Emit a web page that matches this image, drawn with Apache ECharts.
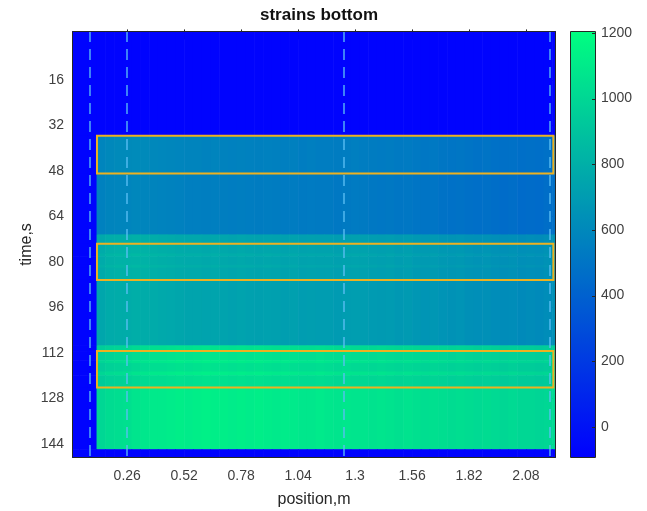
<!DOCTYPE html>
<html><head><meta charset="utf-8">
<script src="https://cdn.jsdelivr.net/npm/echarts@6/dist/echarts.min.js"></script>
<style>html,body{margin:0;padding:0;background:#fff}#c{width:647px;height:511px}</style>
</head><body><div id="c"></div>
<script>
// ---- data ----
const positions = [0.02,0.06,0.10,0.14,0.18,0.22,0.26,0.30,0.34,0.38,0.42,0.46,0.50,0.54,0.58,0.62,0.66,0.70,0.74,0.78,0.82,0.86,0.90,0.94,0.98,1.02,1.06,1.10,1.14,1.18,1.22,1.26,1.30,1.34,1.38,1.42,1.46,1.50,1.54,1.58,1.62,1.66,1.70,1.74,1.78,1.82,1.86,1.90,1.94,1.98,2.02,2.06,2.10,2.14,2.18,2.22];
// relative strain shape along the beam for the medium load steps
const profileMid = [0,0,0,1.06,1.09,1.10,1.10,1.11,1.10,1.09,1.08,1.07,1.06,1.05,1.05,1.04,1.05,1.04,1.03,1.04,1.03,1.02,1.03,1.02,1.01,1.02,1.00,1.01,1.00,1.00,0.99,1.00,1.01,1.00,0.99,0.98,0.99,0.97,0.98,0.96,0.95,0.96,0.94,0.93,0.94,0.92,0.91,0.92,0.90,0.89,0.90,0.88,0.89,0.88,0.90,0.92];
// relative strain shape along the beam for the highest load step
const profileHigh = [0,0,0,0.93,0.95,0.96,0.97,0.99,1.00,1.01,1.01,1.02,1.03,1.02,1.03,1.04,1.03,1.03,1.02,1.03,1.02,1.03,1.02,1.01,1.02,1.01,1.00,1.00,1.01,1.00,0.99,1.00,0.99,0.99,0.98,0.99,0.98,0.97,0.98,0.97,0.96,0.97,0.96,0.95,0.96,0.95,0.94,0.95,0.94,0.93,0.94,0.93,0.93,0.92,0.93,0.94];
const lowValue = -80;
// time bands (s): start, end, strain level, shape used (0 = unloaded)
const segStart   = [-1.2, 35.6, 49.0, 70.3, 73.6, 77.0, 78.0, 81.0, 82.0, 86.3, 109.3, 111.3, 114.5, 115.5, 118.5, 119.8, 124.1, 145.8];
const segEnd     = [35.6, 49.0, 70.3, 73.6, 77.0, 78.0, 81.0, 82.0, 86.3, 109.3, 111.3, 114.5, 115.5, 118.5, 119.8, 124.1, 145.8, 148.9];
const segLevel   = [-80, 545, 525, 715, 730, 755, 730, 750, 725, 705, 1030, 1040, 1075, 1025, 1080, 1020, 1085, -80];
const segProfile = [0, 1, 1, 1, 1, 1, 1, 1, 1, 1, 2, 2, 2, 2, 2, 2, 2, 0];
// highlighted windows
const boxStart = [35.6, 73.6, 111.3];
const boxEnd   = [48.9, 86.3, 124.1];
const boxLeft = 0.122, boxRight = 2.205;
// dashed guide positions (m)
const guideX = [0.087, 0.257, 1.25, 2.194];
// tick labels
const xTicks = [0.26, 0.52, 0.78, 1.04, 1.3, 1.56, 1.82, 2.08];
const yTicks = [16, 32, 48, 64, 80, 96, 112, 128, 144];
const cbTicks = [0, 200, 400, 600, 800, 1000, 1200];

// ---- build cells ----
const cells = [];
for (let s = 0; s < segStart.length; s++) {
  for (let c = 0; c < positions.length; c++) {
    let v;
    if (segProfile[s] === 0) v = segLevel[s];
    else {
      const f = (segProfile[s] === 1 ? profileMid : profileHigh)[c];
      v = lowValue + (segLevel[s] - lowValue) * f;
    }
    cells.push([positions[c], segStart[s], segEnd[s], v]);
  }
}
const cellWidth = positions[1] - positions[0];
const boxes = boxStart.map((b, i) => [boxLeft, b, boxRight, boxEnd[i]]);

const FONT = 'Liberation Sans';
const tickColor = '#262626';
const labelColor = '#404040';

function clipTo(params, r) {
  return echarts.graphic.clipRectByRect(r, {
    x: params.coordSys.x, y: params.coordSys.y,
    width: params.coordSys.width, height: params.coordSys.height
  });
}

const chart = echarts.init(document.getElementById('c'), null, {renderer: 'canvas'});
chart.setOption({
  animation: false,
  backgroundColor: '#ffffff',
  title: {
    text: 'strains bottom', left: 314, top: 2, textAlign: 'center',
    textStyle: {fontFamily: FONT, fontSize: 17, fontWeight: 'bold', color: '#111'}
  },
  grid: [
    {left: 72, top: 31, width: 484, height: 427, containLabel: false, outerBoundsMode: 'none'},
    {left: 570, top: 31, width: 26, height: 427, containLabel: false, outerBoundsMode: 'none'}
  ],
  xAxis: [
    {
      type: 'value', gridIndex: 0, min: 0.008, max: 2.217, position: 'bottom',
      axisLine: {show: false}, splitLine: {show: false},
      axisTick: {show: true, inside: true, length: 5, lineStyle: {color: tickColor}, customValues: xTicks},
      axisLabel: {customValues: xTicks, margin: 11, fontFamily: FONT, fontSize: 14, color: labelColor,
        formatter: v => String(+(+v).toFixed(2))},
      name: 'position,m', nameLocation: 'middle', nameGap: 34, nameMoveOverlap: false,
      nameTextStyle: {fontFamily: FONT, fontSize: 16, color: '#262626'}
    },
    {
      type: 'value', gridIndex: 0, min: 0.008, max: 2.217, position: 'top',
      axisLine: {show: false}, splitLine: {show: false},
      axisTick: {show: true, inside: true, length: 5, lineStyle: {color: tickColor}, customValues: xTicks},
      axisLabel: {show: false}
    },
    {type: 'value', gridIndex: 1, min: 0, max: 1, show: false}
  ],
  yAxis: [
    {
      type: 'value', gridIndex: 0, inverse: true, min: -1.2, max: 148.9, position: 'left',
      axisLine: {show: false}, splitLine: {show: false},
      axisTick: {show: true, inside: true, length: 5, lineStyle: {color: tickColor}, customValues: yTicks},
      axisLabel: {customValues: yTicks, margin: 8, fontFamily: FONT, fontSize: 14, color: labelColor},
      name: 'time,s', nameLocation: 'middle', nameGap: 37, nameRotate: 90, nameMoveOverlap: false,
      nameTextStyle: {fontFamily: FONT, fontSize: 16, color: '#262626'}
    },
    {
      type: 'value', gridIndex: 0, inverse: true, min: -1.2, max: 148.9, position: 'right',
      axisLine: {show: false}, splitLine: {show: false},
      axisTick: {show: true, inside: true, length: 5, lineStyle: {color: tickColor}, customValues: yTicks},
      axisLabel: {show: false}
    },
    {
      type: 'value', gridIndex: 1, min: -95, max: 1206, position: 'right',
      axisLine: {show: false}, splitLine: {show: false}, axisTick: {show: false},
      axisLabel: {customValues: cbTicks, margin: 5, fontFamily: FONT, fontSize: 14, color: labelColor,
        formatter: v => String(v)}
    }
  ],
  visualMap: {
    type: 'continuous', min: -95, max: 1206, dimension: 3, seriesIndex: 0,
    inRange: {color: ['#0000FF', '#00FF80']},
    show: true, calculable: false, hoverLink: false, text: null,
    left: 570, top: 31, itemWidth: 26, itemHeight: 427, padding: 0, z: 2
  },
  series: [
    {
      type: 'custom', xAxisIndex: 0, yAxisIndex: 0,
      dimensions: ['x', 't0', 't1', 'v'],
      encode: {x: 0, y: [1, 2]},
      data: cells, silent: true, z: 1,
      renderItem: function (params, api) {
        const half = cellWidth / 2;
        const p0 = api.coord([api.value(0) - half, api.value(1)]);
        const p1 = api.coord([api.value(0) + half, api.value(2)]);
        const r = clipTo(params, {
          x: Math.min(p0[0], p1[0]), y: Math.min(p0[1], p1[1]),
          width: Math.abs(p1[0] - p0[0]) + 0.6, height: Math.abs(p1[1] - p0[1]) + 0.6
        });
        if (!r) return null;
        return {type: 'rect', shape: r, style: {fill: api.visual('color')}};
      },
      markLine: {
        silent: true, symbol: ['none', 'none'], label: {show: false},
        lineStyle: {color: 'rgba(90,190,245,0.85)', type: [11, 7], width: 1.6},
        data: guideX.map(x => ({xAxis: x})),
        z: 3
      }
    },
    {
      type: 'custom', xAxisIndex: 0, yAxisIndex: 0, silent: true, z: 5,
      data: boxes,
      encode: {x: [0, 2], y: [1, 3]},
      renderItem: function (params, api) {
        const p0 = api.coord([api.value(0), api.value(1)]);
        const p1 = api.coord([api.value(2), api.value(3)]);
        return {
          type: 'rect',
          shape: {x: p0[0], y: Math.min(p0[1], p1[1]), width: p1[0] - p0[0], height: Math.abs(p1[1] - p0[1])},
          style: {fill: 'none', stroke: '#EDB120', lineWidth: 2}
        };
      }
    },
    {
      // colorbar tick marks (inside, on the right edge)
      type: 'custom', xAxisIndex: 2, yAxisIndex: 2, silent: true, z: 20,
      data: cbTicks.map(v => [1, v]),
      encode: {x: 0, y: 1},
      renderItem: function (params, api) {
        const p = api.coord([api.value(0), api.value(1)]);
        return {type: 'line', shape: {x1: p[0] - 4, y1: Math.round(p[1]) + 0.5, x2: p[0], y2: Math.round(p[1]) + 0.5},
          style: {stroke: tickColor, lineWidth: 1}};
      }
    }
  ],
  graphic: [
    {type: 'rect', silent: true, z: 100, shape: {x: 72.5, y: 31.5, width: 483, height: 426},
      style: {fill: 'none', stroke: '#262626', lineWidth: 1}},
    {type: 'rect', silent: true, z: 100, shape: {x: 570.5, y: 31.5, width: 25, height: 426},
      style: {fill: 'none', stroke: '#262626', lineWidth: 1}}
  ]
});
</script>
</body></html>
